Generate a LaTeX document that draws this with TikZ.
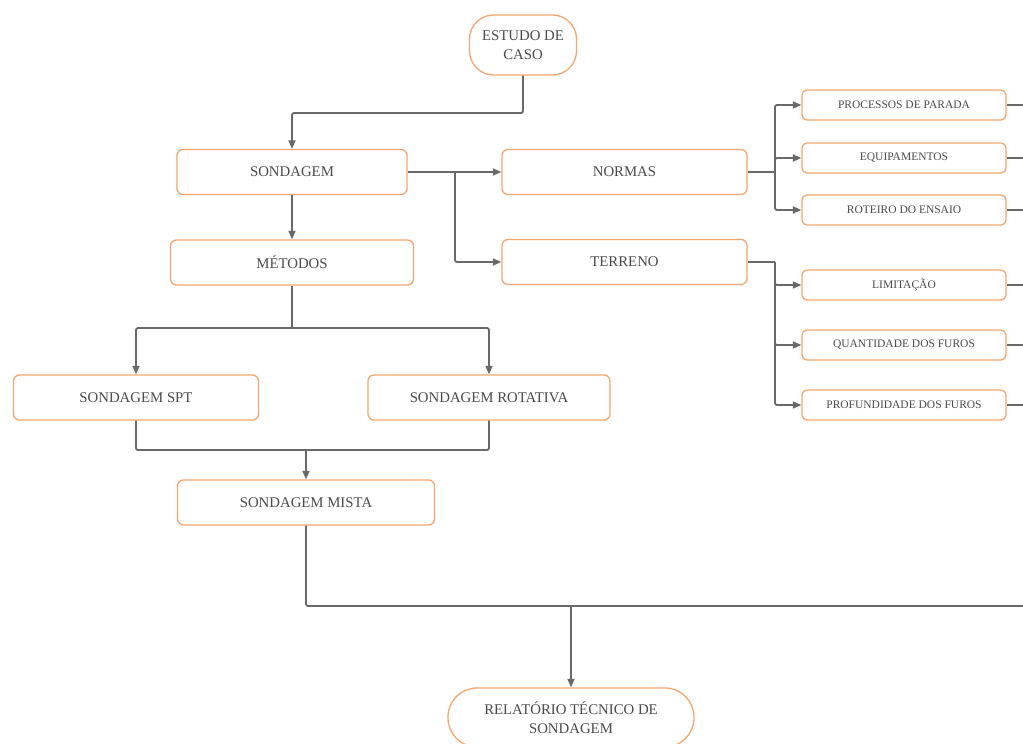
\documentclass[tikz,border=0pt]{standalone}
\usepackage{fontspec}
\setmainfont{Liberation Serif}
\usetikzlibrary{arrows.meta}
\definecolor{boxorange}{RGB}{245,166,112}
\definecolor{txtgray}{RGB}{75,75,75}
\definecolor{lngray}{RGB}{105,105,105}
\begin{document}
\begin{tikzpicture}[x=1pt,y=-1pt,
  box/.style={draw=boxorange, line width=1.3pt, rounded corners=6pt, fill=white, text=txtgray,
    font=\fontsize{14.8}{18.5}\selectfont, inner sep=0pt, align=center},
  sbox/.style={box, rounded corners=5pt, font=\fontsize{11.5}{13}\selectfont, minimum width=204pt, minimum height=30pt},
  mbox/.style={box, minimum height=45pt},
  conn/.style={draw=lngray, line width=1.8pt, rounded corners=2pt},
  arr/.style={conn, -{Triangle[length=8.5pt,width=7pt]}}]
\useasboundingbox (0,0) rectangle (1023,744);
\clip (0,0) rectangle (1023,744);
\fill[white] (0,0) rectangle (1023,744);

% nodes
\node[box, rounded corners=24pt, minimum width=107pt, minimum height=60pt] (estudo) at (523,45) {ESTUDO DE\\CASO};
\node[mbox, minimum width=230pt] (sond) at (292,172) {SONDAGEM};
\node[mbox, minimum width=245pt] (normas) at (624.5,172) {NORMAS};
\node[mbox, minimum width=245pt] (terreno) at (624.5,262) {TERRENO};
\node[mbox, minimum width=243pt] (metodos) at (292,262.5) {MÉTODOS};
\node[mbox, minimum width=245pt] (spt) at (136,397.5) {SONDAGEM SPT};
\node[mbox, minimum width=242pt] (rot) at (489,397.5) {SONDAGEM ROTATIVA};
\node[mbox, minimum width=257pt] (mista) at (306,502.5) {SONDAGEM MISTA};
\node[box, rounded corners=29pt, minimum width=246pt, minimum height=59pt] (rel) at (571,717.5) {RELATÓRIO TÉCNICO DE\\SONDAGEM};

\node[sbox] (proc) at (904,105) {PROCESSOS DE PARADA};
\node[sbox] (equip) at (904,158) {EQUIPAMENTOS};
\node[sbox] (roteiro) at (904,210) {ROTEIRO DO ENSAIO};
\node[sbox] (limit) at (904,285) {LIMITAÇÃO};
\node[sbox] (quant) at (904,345) {QUANTIDADE DOS FUROS};
\node[sbox] (prof) at (904,405) {PROFUNDIDADE DOS FUROS};

% junction coordinates
\coordinate (j0) at (523,113);
\coordinate (j1) at (455,172);
\coordinate (j2) at (292,328);
\coordinate (j3) at (306,450);
\coordinate (j4) at (775,172);
\coordinate (j5) at (775,262);
\coordinate (j6) at (571,606);
\coordinate (redge) at (1030,606);
\coordinate (e1) at (1030,105);
\coordinate (e2) at (1030,158);
\coordinate (e3) at (1030,210);
\coordinate (e4) at (1030,285);
\coordinate (e5) at (1030,345);
\coordinate (e6) at (1030,405);

% connectors
\draw[arr] (estudo.south) -- (j0) -| (sond.north);
\draw[arr] (sond.east) -- (normas.west);
\draw[arr] (j1) |- (terreno.west);
\draw[arr] (sond.south) -- (sond.south |- metodos.north);
\draw[conn] (metodos.south) -- (j2);
\draw[arr] (j2) -| (spt.north);
\draw[arr] (j2) -| (rot.north);
\draw[conn] (spt.south) |- (rot.south |- j3) -- (rot.south);
\draw[arr] (j3) -- (mista.north);
\draw[conn] (mista.south) |- (redge);
\draw[arr] (j6) -- (rel.north);

\draw[conn] (normas.east) -- (j4);
\draw[arr] (j4) |- (proc.west);
\draw[arr] (j4) -- (equip.west -| j4) -- (equip.west);
\draw[arr] (j4) |- (roteiro.west);
\draw[conn] (terreno.east) -- (j5);
\draw[arr] (j5) |- (limit.west);
\draw[arr] (j5) |- (quant.west);
\draw[arr] (j5) |- (prof.west);

\draw[conn] (proc.east) -- (e1);
\draw[conn] (equip.east) -- (e2);
\draw[conn] (roteiro.east) -- (e3);
\draw[conn] (limit.east) -- (e4);
\draw[conn] (quant.east) -- (e5);
\draw[conn] (prof.east) -- (e6);
\end{tikzpicture}
\end{document}
